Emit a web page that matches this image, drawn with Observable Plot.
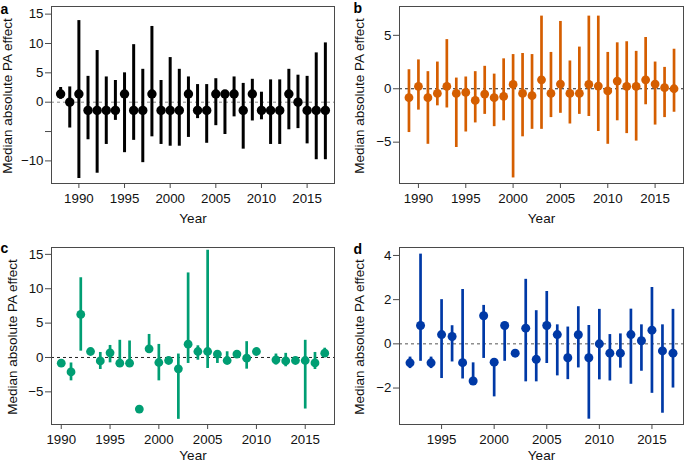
<!DOCTYPE html>
<html>
<head>
<meta charset="utf-8">
<script src="https://cdn.jsdelivr.net/npm/d3@7"></script>
<script src="https://cdn.jsdelivr.net/npm/@observablehq/plot@0.6"></script>
<style>
  html, body { margin: 0; padding: 0; background: #fff; }
  #wrap { position: relative; width: 685px; height: 464px; overflow: hidden; }
  #wrap svg { position: absolute; }
</style>
</head>
<body>
<div id="wrap"></div>
<script>
// ---- Panel a (black) ----
const aYears = [1988,1989,1990,1991,1992,1993,1994,1995,1996,1997,1998,1999,2000,2001,2002,2003,2004,2005,2006,2007,2008,2009,2010,2011,2012,2013,2014,2015,2016,2017];
const aMed = [1.4,0,1.4,-1.4,-1.4,-1.4,-1.4,1.4,-1.4,-1.4,1.4,-1.4,-1.4,-1.4,1.4,-1.4,-1.4,1.4,1.4,1.4,-1.4,1.4,-1.4,-1.4,-1.4,1.4,0,-1.4,-1.4,-1.4];
const aLo = [0.5,-4.4,-13.0,-6.4,-12.1,-7.2,-3.1,-8.6,-6.5,-10.3,-5.9,-7.2,-7.5,-7.5,-6.0,-2.8,-7.0,-4.0,-5.5,-2.5,-8.0,-3.2,-3.0,-7.2,-7.2,-4.7,-4.5,-7.1,-9.8,-9.8];
const aHi = [2.5,2.6,13.9,4.4,8.8,4.3,3.7,5.0,9.8,5.6,12.9,3.7,7.6,5.6,4.3,3.0,3.0,4.0,1.9,4.3,3.2,3.9,1.7,3.8,3.8,5.6,4.6,4.4,8.4,10.1];

// ---- Panel b (orange) ----
const bYears = [1989,1990,1991,1992,1993,1994,1995,1996,1997,1998,1999,2000,2001,2002,2003,2004,2005,2006,2007,2008,2009,2010,2011,2012,2013,2014,2015,2016,2017];
const bMed = [-0.84,0.22,-0.84,-0.44,0.22,-0.44,-0.34,-1.09,-0.5,-0.84,-0.72,0.4,-0.44,-0.65,0.84,-0.44,0.44,-0.44,-0.44,0.4,0.25,-0.2,0.72,0.22,0.22,0.84,0.44,0.1,0.0];
const bLo = [-4.1,-2.0,-5.2,-1.6,-1.8,-5.5,-4.05,-3.2,-2.4,-3.55,-3.0,-8.35,-4.5,-3.8,-3.8,-2.7,-2.3,-3.3,-2.4,-2.6,-4.0,-5.2,-3.0,-4.2,-4.9,-1.5,-3.4,-2.7,-2.2];
const bHi = [1.78,2.7,1.6,2.5,4.6,1.0,1.1,1.6,2.1,1.37,2.8,3.2,3.3,3.2,6.8,3.4,6.3,2.6,3.9,6.8,6.8,3.4,4.3,4.4,3.5,4.8,2.5,2.0,3.7];

// ---- Panel c (green) ----
const cYears = [1990,1991,1992,1993,1994,1995,1996,1997,1998,1999,2000,2001,2002,2003,2004,2005,2006,2007,2008,2009,2010,2012,2013,2014,2015,2016,2017];
const cMed = [-0.83,-2.1,6.26,0.87,-0.5,0.68,-0.83,-0.83,-7.5,1.26,-0.73,-0.44,-1.65,1.94,0.87,0.87,0.49,-0.44,0.49,-0.1,0.87,-0.34,-0.5,-0.44,-0.44,-0.8,0.63];
const cLo = [-0.83,-3.4,0.92,0.87,-1.75,-0.78,-0.83,-0.83,-7.5,0.8,-3.4,-0.44,-9.0,-0.87,-0.4,-1.6,-0.87,-0.44,0.49,-1.7,0.87,-1.1,-1.35,-0.44,-7.5,-1.75,0.1];
const cHi = [-0.83,-0.8,11.6,0.87,0.73,1.75,2.5,2.4,-7.5,3.35,1.9,-0.44,0.5,12.3,1.7,15.6,0.8,0.83,0.49,2.3,0.87,0.5,0.6,-0.44,2.5,0.73,1.35];

// ---- Panel d (blue) ----
const dYears = [1992,1993,1994,1995,1996,1997,1998,1999,2000,2001,2002,2003,2004,2005,2006,2007,2008,2009,2010,2011,2012,2013,2014,2015,2016,2017];
const dMed = [-0.86,0.83,-0.86,0.42,0.33,-0.85,-1.68,1.27,-0.83,0.83,-0.42,0.71,-0.7,0.83,0.42,-0.63,0.41,-0.63,0.0,-0.42,-0.42,0.42,0.14,0.62,-0.32,-0.42];
const dLo = [-1.12,-0.79,-1.12,-1.57,-0.82,-1.59,-1.68,-0.66,-2.4,-0.79,-0.42,-1.72,-1.72,-0.89,-1.45,-1.62,-1.09,-3.41,-1.63,-1.68,-1.1,-1.83,-1.24,-2.24,-3.14,-2.0];
const dHi = [-0.6,4.06,-0.6,2.0,0.82,2.46,-0.86,1.74,-0.83,0.83,-0.42,2.92,1.5,2.37,0.86,0.76,1.68,0.83,1.56,0.42,0.45,1.57,0.86,2.55,0.86,1.56];

// ---- Tick labels ----
const xTicksABC = [1990, 1995, 2000, 2005, 2010, 2015];
const xTicksD = [1995, 2000, 2005, 2010, 2015];
const yTicksA = [-10, -5, 0, 5, 10, 15];
const yLabelsA = [-10, 0, 5, 10, 15];
const yTicksB = [-5, 0, 5];
const yTicksC = [-5, 0, 5, 10, 15];
const yTicksD = [-2, 0, 2, 4];

const yTitle = "Median absolute PA effect";
const xTitle = "Year";

const FONT = "'Liberation Sans', Arial, Helvetica, sans-serif";
const fmt = d => (d < 0 ? "\u2212" + Math.abs(d) : String(d));

function panel(o) {
  const data = o.years.map((y, i) => ({year: y, med: o.med[i], lo: o.lo[i], hi: o.hi[i]}));
  const svg = Plot.plot({
    width: o.width, height: o.height,
    marginTop: o.mt, marginBottom: o.mb, marginLeft: o.ml, marginRight: o.mr,
    x: {domain: o.xDomain},
    y: {domain: o.yDomain},
    style: {fontFamily: FONT, fontSize: "13px", background: "white", color: "#111"},
    marks: [
      Plot.ruleY([0], {stroke: o.zeroColor, strokeWidth: 1, strokeDasharray: "3,3"}),
      Plot.ruleX(data, {x: "year", y1: "lo", y2: "hi", stroke: o.color, strokeWidth: o.sw}),
      Plot.dot(data, {x: "year", y: "med", r: o.r, fill: o.color, stroke: "none"}),
      Plot.frame({stroke: "#4a4a4a", strokeWidth: 1}),
      Plot.axisX({ticks: o.xTicks, tickSize: 5, tickPadding: 5, tickFormat: d => String(d), label: null, stroke: "#4a4a4a", fill: "#111", fontSize: 13.3}),
      Plot.axisY({ticks: o.yTicks, tickSize: 6, tickPadding: 2, tickFormat: d => (o.yLabels.includes(d) ? fmt(d) : ""), label: null, stroke: "#4a4a4a", fill: "#111", fontSize: 13.3}),
      Plot.text([yTitle], {frameAnchor: "left", dx: o.ylabDx, dy: 1, rotate: -90, textAnchor: "middle", lineAnchor: "middle", fontSize: 13.5, fill: "#111"}),
      Plot.text([xTitle], {frameAnchor: "bottom", dy: o.yearDy, textAnchor: "middle", lineAnchor: "middle", fontSize: 13.5, fill: "#111"}),
      Plot.text([o.letter], {frameAnchor: "top-left", dx: o.letDx, dy: o.letDy, textAnchor: "start", lineAnchor: "bottom", fontSize: 14, fontWeight: "bold", fill: "#000"})
    ]
  });
  svg.style.left = o.left + "px";
  svg.style.top = o.top + "px";
  document.getElementById("wrap").appendChild(svg);
}

panel({years: aYears, med: aMed, lo: aLo, hi: aHi, color: "#000000", zeroColor: "#8a8a8a",
  xDomain: [1987, 2018], yDomain: [-13.85, 16.3], xTicks: xTicksABC, yTicks: yTicksA, yLabels: yLabelsA,
  width: 342, height: 230, mt: 6, mb: 47, ml: 51, mr: 8, left: 0, top: 0, r: 4.7, sw: 3,
  ylabDx: -44, yearDy: 35, letter: "a", letDx: -51, letDy: 7});

panel({years: bYears, med: bMed, lo: bLo, hi: bHi, color: "#D55E00", zeroColor: "#222222",
  xDomain: [1988, 2018], yDomain: [-8.87, 7.7], xTicks: xTicksABC, yTicks: yTicksB, yLabels: yTicksB,
  width: 343, height: 230, mt: 6, mb: 47, ml: 57, mr: 2, left: 342, top: 0, r: 4.4, sw: 2.7,
  ylabDx: -39.5, yearDy: 35, letter: "b", letDx: -46, letDy: 6});

panel({years: cYears, med: cMed, lo: cLo, hi: cHi, color: "#009E73", zeroColor: "#222222",
  xDomain: [1989, 2018], yDomain: [-9.75, 16], xTicks: xTicksABC, yTicks: yTicksC, yLabels: yTicksC,
  width: 342, height: 234, mt: 17, mb: 40, ml: 51, mr: 8, left: 0, top: 230, r: 4.4, sw: 2.7,
  ylabDx: -39, yearDy: 31, letter: "c", letDx: -51, letDy: 5});

panel({years: dYears, med: dMed, lo: dLo, hi: dHi, color: "#0039A6", zeroColor: "#555555",
  xDomain: [1991, 2018], yDomain: [-3.65, 4.36], xTicks: xTicksD, yTicks: yTicksD, yLabels: yTicksD,
  width: 343, height: 234, mt: 17, mb: 40, ml: 57, mr: 2, left: 342, top: 230, r: 4.5, sw: 2.7,
  ylabDx: -39.5, yearDy: 31, letter: "d", letDx: -46, letDy: 6});
</script>
</body>
</html>
